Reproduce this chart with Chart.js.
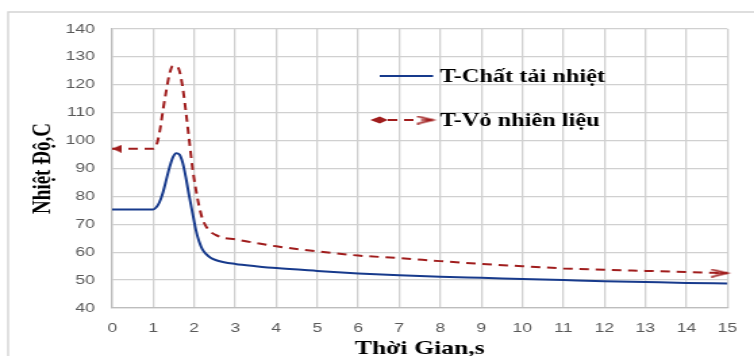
<!DOCTYPE html>
<html>
<head>
<meta charset="utf-8">
<script src="https://cdn.jsdelivr.net/npm/chart.js@4.4.1/dist/chart.umd.min.js"></script>
<style>
  html, body { margin: 0; padding: 0; background: #fff; overflow: hidden; }
  /* chart is laid out narrow and widened, so text and marks get the wide look */
  #wrap { width: 558px; height: 356px; transform: scaleX(1.3513); transform-origin: 0 0; }
</style>
</head>
<body>
<div id="wrap"><canvas id="chartNhiet" width="558" height="356"></canvas></div>
<script>
// thời gian (s)
const times    = [0, 0.5, 1.0, 1.07, 1.15, 1.24, 1.32, 1.40, 1.48, 1.56, 1.64, 1.72, 1.80, 1.88, 1.96, 2.04, 2.12, 2.2, 2.3, 2.4, 2.52, 2.7, 3, 3.5, 4, 5, 6, 7, 8, 9, 10, 11, 12, 13, 14, 15];
// nhiệt độ chất tải nhiệt (C)
const tCoolant = [75.3, 75.3, 75.3, 76, 77.8, 81.5, 86, 90.5, 94, 95.5, 95, 92, 86.5, 80, 74, 68, 63.8, 61, 59.2, 58, 57.2, 56.5, 55.8, 55, 54.3, 53.3, 52.4, 51.7, 51.2, 50.8, 50.4, 50.0, 49.6, 49.3, 49.0, 48.8];
// nhiệt độ vỏ nhiên liệu (C)
const tCladding = [97.1, 97.1, 97.1, 98, 102.5, 111, 118, 124, 126.8, 126.8, 125, 119, 110, 100, 90, 82.5, 76.5, 72, 69, 67.3, 66.2, 65.2, 64.6, 63.3, 62.1, 60.3, 58.8, 57.9, 56.8, 55.8, 55.0, 54.2, 53.7, 53.3, 52.9, 52.5];

const seriesNames = ["T-Chất tải nhiệt", "T-Vỏ nhiên liệu"];
const xTitle = "Thời Gian,s";
const yTitle = "Nhiệt Độ,C";
const xRange = [0, 15, 1];
const yRange = [40, 140, 10];

const BLUE = "#173a8c";
const RED = "#a01d1d";
const DASH = [7, 5];

// line-end markers: filled arrow at the start, open arrow at the end
function startArrow(){
  const c = document.createElement("canvas");
  c.width = 14; c.height = 8;
  const g = c.getContext("2d");
  g.fillStyle = RED;
  g.beginPath(); g.moveTo(7, 4); g.lineTo(14, 0); g.lineTo(14, 8); g.closePath(); g.fill();
  return c;
}
function endArrow(){
  const c = document.createElement("canvas");
  c.width = 26; c.height = 9;
  const g = c.getContext("2d");
  g.strokeStyle = RED; g.lineWidth = 1.6;
  g.beginPath(); g.moveTo(1, 0.8); g.lineTo(13, 4.5); g.lineTo(1, 8.2); g.stroke();
  g.beginPath(); g.moveTo(4, 4.5); g.lineTo(13, 4.5); g.stroke();
  return c;
}
const arrowIn = startArrow();
const arrowOut = endArrow();

const toPoints = (ys) => ys.map((y, i) => ({ x: times[i], y }));

// khung ngoài
const framePlugin = {
  id: "frame",
  beforeDraw(chart){
    const ctx = chart.ctx;
    ctx.save();
    ctx.strokeStyle = "#d4d4d4";
    ctx.lineWidth = 1.4;
    ctx.beginPath();
    ctx.moveTo(6, chart.height + 5);
    ctx.lineTo(6, 12);
    ctx.lineTo(chart.width + 5, 12);
    ctx.stroke();
    ctx.restore();
  }
};

// chú thích đặt trong vùng vẽ
const legendPlugin = {
  id: "legendInside",
  afterDraw(chart){
    const ctx = chart.ctx;
    const x0 = 281, x1 = 320.5, tx = 325.5, rows = [76, 120];
    ctx.save();
    ctx.font = "bold 18px 'Liberation Serif', 'Times New Roman', serif";
    ctx.textBaseline = "middle";
    ctx.fillStyle = "#000";
    chart.data.datasets.forEach((ds, i) => {
      const y = rows[i];
      ctx.strokeStyle = ds.borderColor;
      ctx.lineWidth = ds.borderWidth;
      if (i === 0) {
        ctx.setLineDash([]);
        ctx.beginPath(); ctx.moveTo(x0, y); ctx.lineTo(x1, y); ctx.stroke();
      } else {
        ctx.setLineDash(ds.borderDash);
        ctx.beginPath(); ctx.moveTo(x0 + 6, y); ctx.lineTo(x1 - 11, y); ctx.stroke();
        ctx.setLineDash([]);
        ctx.fillStyle = ds.borderColor;
        ctx.beginPath();
        ctx.moveTo(x0 - 7, y); ctx.lineTo(x0, y - 3.5); ctx.lineTo(x0 + 6, y); ctx.lineTo(x0, y + 3.5);
        ctx.closePath(); ctx.fill();
        ctx.drawImage(arrowOut, x1 - 13, y - 4.5);
        ctx.fillStyle = "#000";
      }
      ctx.fillText(ds.label, tx, y + 1);
    });
    ctx.restore();
  }
};

const titleFont = { family: "'Liberation Serif', 'Times New Roman', serif", size: 19, weight: "bold" };
const tickFont = { family: "'Liberation Sans', Arial, sans-serif", size: 13 };
const gridStyle = { color: "#d0d0d0", lineWidth: 1.3, drawTicks: false };
const borderStyle = { color: "#bdbdbd", width: 1.3 };

new Chart(document.getElementById("chartNhiet"), {
  type: "line",
  data: {
    datasets: [
      {
        label: seriesNames[0],
        data: toPoints(tCoolant),
        borderColor: BLUE,
        borderWidth: 2,
        pointRadius: 0,
        cubicInterpolationMode: "monotone",
        fill: false
      },
      {
        label: seriesNames[1],
        data: toPoints(tCladding),
        borderColor: RED,
        backgroundColor: RED,
        borderWidth: 2,
        borderDash: DASH,
        cubicInterpolationMode: "monotone",
        fill: false,
        clip: false,
        pointRadius: (c) => (c.dataIndex === 0 || c.dataIndex === times.length - 1) ? 4 : 0,
        pointStyle: (c) => c.dataIndex === 0 ? arrowIn : arrowOut
      }
    ]
  },
  options: {
    responsive: false,
    devicePixelRatio: 1,
    animation: false,
    events: [],
    layout: { padding: { top: 29, right: 16, left: 0, bottom: 0 } },
    plugins: { legend: { display: false }, tooltip: { enabled: false } },
    scales: {
      x: {
        type: "linear",
        min: xRange[0], max: xRange[1],
        ticks: { stepSize: xRange[2], color: "#595959", font: tickFont, padding: 12.5 },
        grid: gridStyle,
        border: borderStyle,
        title: { display: true, text: xTitle, color: "#000", font: titleFont, padding: { top: 0, bottom: -4.5 } },
        afterFit(s){ s.height = 48; }
      },
      y: {
        min: yRange[0], max: yRange[1],
        ticks: { stepSize: yRange[2], color: "#595959", font: tickFont, padding: 12.7 },
        grid: gridStyle,
        border: borderStyle,
        title: { display: true, text: yTitle, color: "#000", font: titleFont, padding: { top: 20.5, bottom: 0 } },
        afterFit(s){ s.width = 83; }
      }
    }
  },
  plugins: [framePlugin, legendPlugin]
});
</script>
</body>
</html>
